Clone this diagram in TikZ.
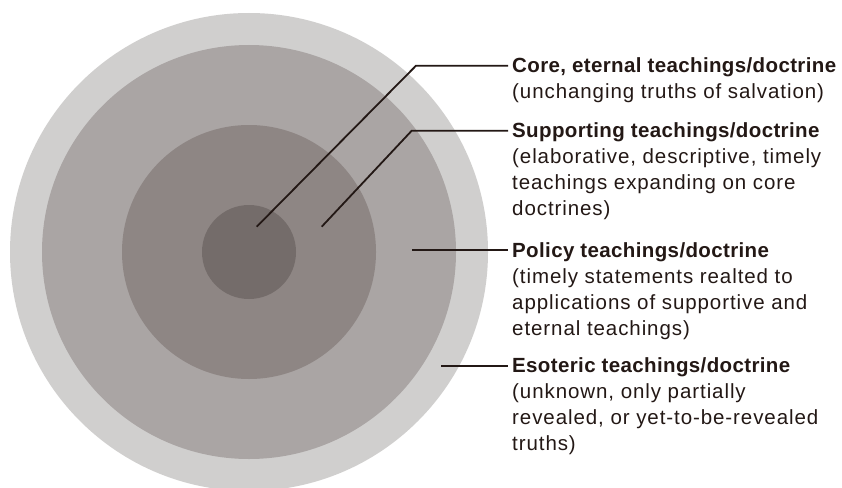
\documentclass[tikz,border=0pt]{standalone}
\usepackage{fontspec}
\setmainfont{Liberation Sans}
\newfontfamily\headfont[LetterSpace=1.8]{Liberation Sans}
\newfontfamily\descfont[LetterSpace=4.5]{Liberation Sans}
\definecolor{ringout}{HTML}{D0CFCE}
\definecolor{ringpol}{HTML}{AAA5A4}
\definecolor{ringsup}{HTML}{8E8684}
\definecolor{ringcore}{HTML}{746C6A}
\definecolor{ink}{HTML}{231815}
% fixed-height strut so the first baseline sits 15pt below the node top
\newcommand{\firstline}{\rule{0pt}{15pt}}
\begin{document}
\begin{tikzpicture}[x=1pt,y=-1pt,
  disc/.style={circle,draw=none,inner sep=0pt},
  leader/.style={draw=ink,line width=1.8pt},
  head/.style={anchor=west,inner sep=0pt,text height=14pt,text depth=0pt,
    text=ink,font=\headfont\bfseries\fontsize{20.5}{26}\selectfont},
  desc/.style={anchor=north west,inner sep=0pt,align=left,
    text=ink,font=\descfont\fontsize{20.5}{26}\selectfont}]
\useasboundingbox (0,0) rectangle (842,487);
\fill[white] (0,0) rectangle (842,487);

% concentric layers, outermost first
\node[disc,fill=ringout,minimum size=478pt] (esoteric) at (249,252) {};
\node[disc,fill=ringpol,minimum size=414pt] (policy) at (249,252) {};
\node[disc,fill=ringsup,minimum size=254pt] (supporting) at (249,252) {};
\node[disc,fill=ringcore,minimum size=94pt] (core) at (249,252) {};

% headings (west anchor sits at mid cap height)
\node[head] (hcore) at (512,65.7) {Core, eternal teachings/doctrine};
\node[head] (hsup)  at (512,130.7) {Supporting teachings/doctrine};
\node[head] (hpol)  at (512,250) {Policy teachings/doctrine};
\node[head] (heso)  at (512,365.7) {Esoteric teachings/doctrine};

% descriptions (node top = first baseline - 15pt)
\node[desc] (dcore) at (512,83.5) {\firstline(unchanging truths of salvation)};
\node[desc] (dsup)  at (512,148.7) {\firstline(elaborative, descriptive, timely\\teachings expanding on core\\doctrines)};
\node[desc] (dpol)  at (512,268.5) {\firstline(timely statements realted to\\applications of supportive and\\eternal teachings)};
\node[desc] (deso)  at (512,383.7) {\firstline(unknown, only partially\\revealed, or yet-to-be-revealed\\truths)};

% leader ends and elbows
\coordinate (acore) at (256.7,226.7);
\coordinate (kcore) at (416,65.7);
\coordinate (asup)  at (321.7,226.7);
\coordinate (ksup)  at (411.7,130.7);
\coordinate (apol)  at (412,250);
\coordinate (aeso)  at (441,365.7);

\draw[leader] (acore) -- (kcore) -- ([xshift=-4pt]hcore.west);
\draw[leader] (asup) -- (ksup) -- ([xshift=-4pt]hsup.west);
\draw[leader] (apol) -- ([xshift=-4pt]hpol.west);
\draw[leader] (aeso) -- ([xshift=-4pt]heso.west);
\end{tikzpicture}
\end{document}
